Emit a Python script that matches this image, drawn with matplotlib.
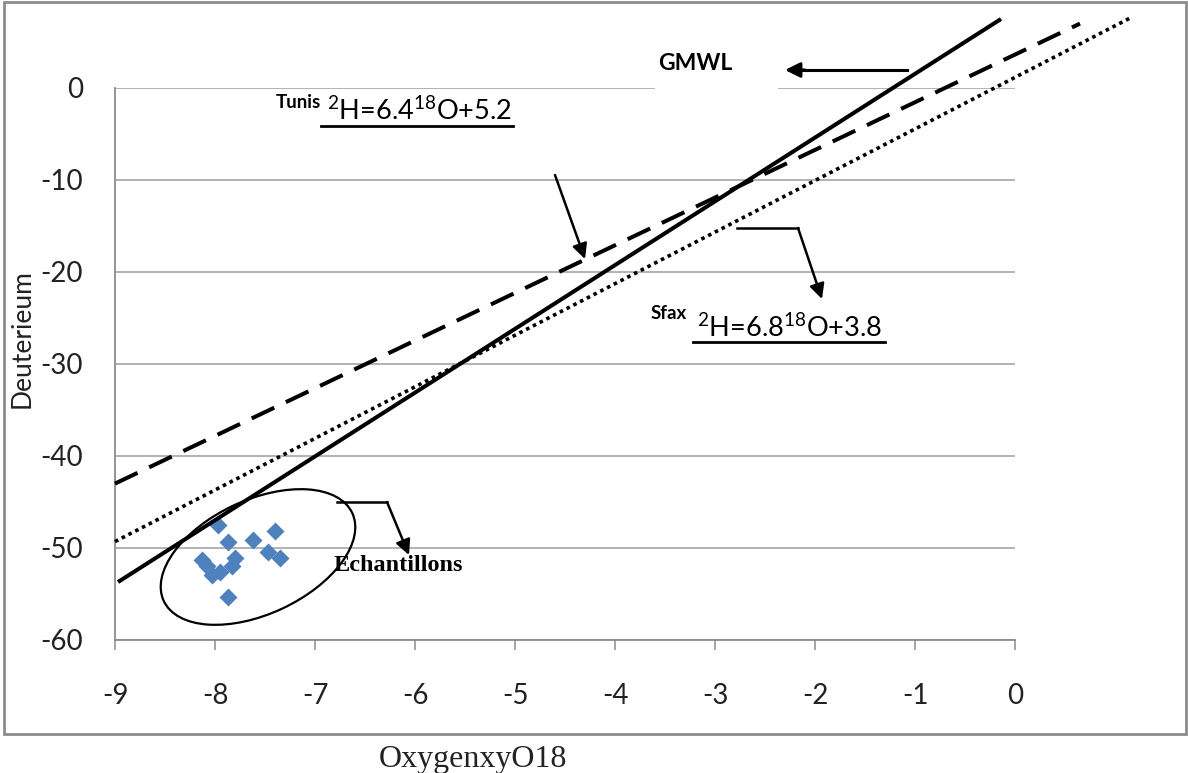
import matplotlib
matplotlib.use("Agg")
import matplotlib.pyplot as plt
from matplotlib.patches import Ellipse, Rectangle
from matplotlib.lines import Line2D
from matplotlib.transforms import Affine2D

# ---------------- data ----------------
o18 = [-7.97, -7.87, -7.62, -7.40, -8.13, -8.08, -7.80, -7.83,
       -7.47, -7.35, -8.03, -7.95, -7.87]
h2 = [-47.5, -49.3, -49.1, -48.2, -51.3, -52.0, -51.1, -52.0,
      -50.4, -51.1, -52.9, -52.6, -55.3]

gmwl_x = [-8.97, -0.14]
gmwl_y = [-53.7, 7.5]
tunis_x = [-9.0, 0.65]
tunis_y = [-43.0, 7.0]
sfax_x = [-9.0, 1.15]
sfax_y = [-49.3, 7.6]

xticks = [-9, -8, -7, -6, -5, -4, -3, -2, -1, 0]
xtick_labels = ["-9", "-8", "-7", "-6", "-5", "-4", "-3", "-2", "-1", "0"]
yticks = [-60, -50, -40, -30, -20, -10, 0]
ytick_labels = ["-60", "-50", "-40", "-30", "-20", "-10", "0"]

# ---------------- style ----------------
plt.rcParams["font.family"] = ["Lato", "DejaVu Sans"]
plt.rcParams["mathtext.fontset"] = "custom"
plt.rcParams["mathtext.rm"] = "Lato"
plt.rcParams["mathtext.it"] = "Lato:italic"
plt.rcParams["mathtext.bf"] = "Lato:bold"
plt.rcParams["axes.unicode_minus"] = False

W, H = 1188, 773
fig = plt.figure(figsize=(W / 100, H / 100), dpi=100)
# pixel transform (origin top-left)
T = Affine2D().scale(1 / W, -1 / H).translate(0, 1) + fig.transFigure

ax = fig.add_axes([115 / W, 1 - 640 / H, 900 / W, 552 / H])
ax.set_xlim(-9, 0)
ax.set_ylim(-60, 0)

gray = "#8c8c8c"
ax.yaxis.grid(True, color="#a6a6a6", lw=1.2)
ax.set_axisbelow(True)
for s in ["top", "right"]:
    ax.spines[s].set_visible(False)
for s in ["left", "bottom"]:
    ax.spines[s].set_color(gray)
    ax.spines[s].set_linewidth(1.3)

ax.set_xticks(xticks)
ax.set_xticklabels(xtick_labels)
ax.set_yticks(yticks)
ax.set_yticklabels(ytick_labels)
ax.tick_params(axis="x", length=7, width=1.1, color=gray, pad=24,
               labelsize=20, labelcolor="#222222")
ax.tick_params(axis="y", length=0, pad=23, labelsize=20,
               labelcolor="#222222")

# lines
ax.plot(gmwl_x, gmwl_y, color="black", lw=2.9, clip_on=False, zorder=4,
        solid_capstyle="butt")
ax.plot(tunis_x, tunis_y, color="black", lw=2.9, ls=(0, (6.2, 3.2)),
        clip_on=False, zorder=4, dash_capstyle="butt")
ax.plot(sfax_x, sfax_y, color="black", lw=2.6, ls=(0, (1, 1.1)),
        clip_on=False, zorder=4, dash_capstyle="butt")

# samples
ax.plot(o18, h2, "D", ms=9.5, color="#4F81BD", mec="none", zorder=3,
        clip_on=False)

# ---------------- figure annotations ----------------
# outer frame
fig.add_artist(Rectangle((4, 2), 1182, 732, transform=T, fill=False,
                         ec=gray, lw=2.0, zorder=1))

# white box behind GMWL label
fig.add_artist(Rectangle((655, 38), 123, 56, transform=T, fc="white",
                         ec="none", zorder=1))
fig.text(658, 70, "GMWL", transform=T, fontsize=16.5, fontweight="bold",
         va="baseline", ha="left", zorder=2)
fig.add_artist(Line2D([907, 800], [70, 70], transform=T, color="black",
                      lw=2.2, zorder=2))
ax.annotate("", xy=(785, 70), xycoords=T, xytext=(805, 70), textcoords=T,
            arrowprops=dict(arrowstyle="-|>,head_length=0.9,head_width=0.45",
                            color="black", lw=2.2, shrinkA=0, shrinkB=0),
            annotation_clip=False)

# Tunis label
fig.text(276, 108, "Tunis", transform=T, fontsize=13.5, fontweight="bold",
         va="baseline", ha="left")
fig.text(327, 120, r"$^{2}$H=6.4$^{18}$O+5.2", transform=T, fontsize=19.5,
         va="baseline", ha="left")
fig.add_artist(Line2D([321, 513], [126, 126], transform=T, color="black",
                      lw=2.0))
ax.annotate("", xy=(585, 259), xycoords=T, xytext=(555, 175), textcoords=T,
            arrowprops=dict(arrowstyle="-|>,head_length=0.9,head_width=0.45",
                            color="black", lw=1.8, shrinkA=0, shrinkB=0),
            annotation_clip=False)

# Sfax label
fig.text(651, 319, "Sfax", transform=T, fontsize=13.5, fontweight="bold",
         va="baseline", ha="left")
fig.text(697, 337, r"$^{2}$H=6.8$^{18}$O+3.8", transform=T, fontsize=19.5,
         va="baseline", ha="left")
fig.add_artist(Line2D([693, 885], [342, 342], transform=T, color="black",
                      lw=2.0))
fig.add_artist(Line2D([737, 798], [228, 228], transform=T, color="black",
                      lw=1.8))
ax.annotate("", xy=(822, 299), xycoords=T, xytext=(798, 228), textcoords=T,
            arrowprops=dict(arrowstyle="-|>,head_length=0.9,head_width=0.45",
                            color="black", lw=1.8, shrinkA=0, shrinkB=0),
            annotation_clip=False)

# Echantillons
fig.add_artist(Ellipse((258, 557), 208, 114, angle=-25, transform=T,
                       fill=False, ec="black", lw=1.6))
fig.add_artist(Line2D([337, 387], [502, 502], transform=T, color="black",
                      lw=1.8))
ax.annotate("", xy=(409, 555), xycoords=T, xytext=(387, 502), textcoords=T,
            arrowprops=dict(arrowstyle="-|>,head_length=0.9,head_width=0.45",
                            color="black", lw=1.8, shrinkA=0, shrinkB=0),
            annotation_clip=False)
fig.text(334, 571, "Echantillons", transform=T, fontsize=17.5,
         fontweight="bold", family="Liberation Serif", va="baseline",
         ha="left")

# axis titles
fig.text(22, 339, "Deuterieum", transform=T, fontsize=19, rotation=90,
         ha="center", va="center", color="#222222")
fig.text(473, 767, "OxygenxyO18", transform=T, fontsize=23,
         family="Liberation Serif", ha="center", va="baseline",
         color="#222222")

fig.savefig("out.png", dpi=100)
